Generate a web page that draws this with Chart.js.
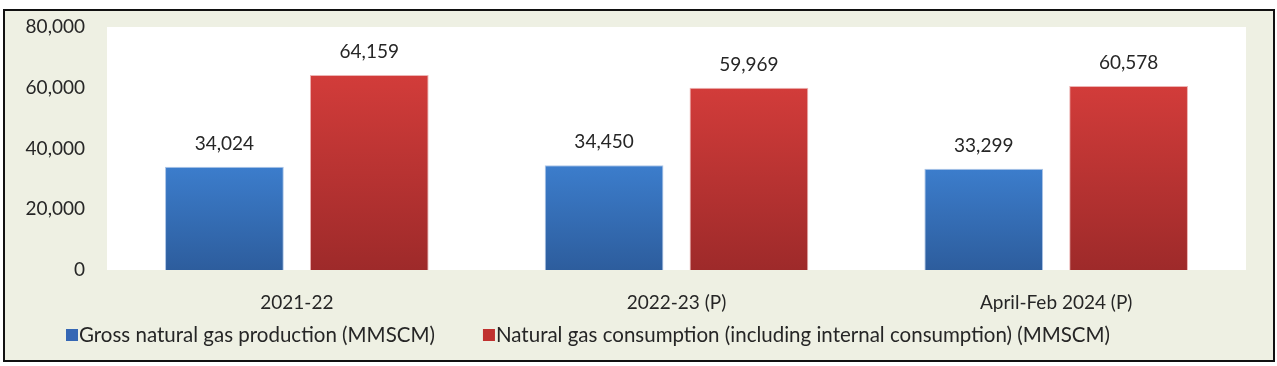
<!DOCTYPE html>
<html>
<head>
<meta charset="utf-8">
<script src="https://cdn.jsdelivr.net/npm/chart.js@4.4.1/dist/chart.umd.min.js"></script>
<style>
html,body{margin:0;padding:0;background:#fff;}
canvas{display:block;}
</style>
</head>
<body>
<canvas id="c" width="1277" height="366"></canvas>
<script>
const categories = ["2021-22", "2022-23 (P)", "April-Feb 2024 (P)"];
const productionLabel = "Gross natural gas production (MMSCM)";
const consumptionLabel = "Natural gas consumption (including internal consumption) (MMSCM)";
const production = [34024, 34450, 33299];
const consumption = [64159, 59969, 60578];
const yTicks = [0, 20000, 40000, 60000, 80000];

const FONT = "Lato";
const TXT = "#262626";
const fmt = v => Number(v).toLocaleString("en-US");

function grad(top, bottom, flat) {
  return (ctx) => {
    const chart = ctx.chart;
    const ca = chart.chartArea;
    if (!ca || ctx.raw === undefined) return flat;
    const y0 = chart.scales.y.getPixelForValue(ctx.raw);
    const g = chart.ctx.createLinearGradient(0, y0, 0, ca.bottom);
    g.addColorStop(0, top);
    g.addColorStop(1, bottom);
    return g;
  };
}

const framePlugin = {
  id: "frame",
  beforeDraw(chart) {
    const c = chart.ctx;
    const ca = chart.chartArea;
    c.save();
    c.fillStyle = "#ffffff";
    c.fillRect(0, 0, chart.width, chart.height);
    c.fillStyle = "#eef0e3";
    c.fillRect(4, 10, 1270, 351);
    c.fillStyle = "#ffffff";
    c.fillRect(ca.left, ca.top, ca.right - ca.left, ca.bottom - ca.top);
    c.strokeStyle = "#111111";
    c.lineWidth = 2;
    c.strokeRect(4, 10, 1270, 351);
    c.restore();
  }
};

const valuePlugin = {
  id: "values",
  afterDatasetsDraw(chart) {
    const c = chart.ctx;
    c.save();
    c.font = "19px " + FONT;
    c.fillStyle = TXT;
    c.textAlign = "center";
    c.textBaseline = "alphabetic";
    chart.data.datasets.forEach((ds, i) => {
      chart.getDatasetMeta(i).data.forEach((el, j) => {
        c.fillText(fmt(ds.data[j]), el.x, el.y - 17);
      });
    });
    c.restore();
  }
};

const legendPlugin = {
  id: "customLegend",
  afterDraw(chart) {
    const c = chart.ctx;
    c.save();
    c.font = "20.5px " + FONT;
    c.textBaseline = "middle";
    c.textAlign = "left";
    let x = 66;
    const yc = 335;
    chart.data.datasets.forEach((ds) => {
      c.fillStyle = ds.legendColor;
      c.fillRect(x, yc - 6, 12, 12);
      x += 13;
      c.fillStyle = TXT;
      c.fillText(ds.label, x, yc);
      x += c.measureText(ds.label).width + 48;
    });
    c.restore();
  }
};

new Chart(document.getElementById("c"), {
  type: "bar",
  data: {
    labels: categories,
    datasets: [
      {
        label: productionLabel,
        data: production,
        legendColor: "#3567b4",
        backgroundColor: grad("#3c7dcc", "#2d5d9d", "#3567b4"),
        borderColor: "rgba(120,160,215,0.6)",
        borderWidth: 1,
        barPercentage: 0.82,
        categoryPercentage: 0.763
      },
      {
        label: consumptionLabel,
        data: consumption,
        legendColor: "#c0312f",
        backgroundColor: grad("#d23c3a", "#9e2a2a", "#c0312f"),
        borderColor: "rgba(225,130,130,0.6)",
        borderWidth: 1,
        barPercentage: 0.82,
        categoryPercentage: 0.763
      }
    ]
  },
  options: {
    responsive: false,
    animation: false,
    devicePixelRatio: 1,
    layout: { padding: { top: 27, right: 31, left: 0, bottom: 0 } },
    plugins: { legend: { display: false }, tooltip: { enabled: false } },
    scales: {
      y: {
        min: 0,
        max: 80000,
        afterBuildTicks: (s) => { s.ticks = yTicks.map(v => ({ value: v })); },
        afterFit: (s) => { s.width = 107; s.paddingTop = 11; s.paddingBottom = 11; },
        grid: { display: false, drawTicks: false },
        border: { display: false },
        ticks: {
          padding: 22,
          color: TXT,
          font: { family: FONT, size: 19 },
          callback: (v) => fmt(v)
        }
      },
      x: {
        afterFit: (s) => { s.height = 96; },
        grid: { display: false, drawTicks: false },
        border: { display: false },
        ticks: {
          padding: 21,
          color: TXT,
          font: { family: FONT, size: 19 },
          maxRotation: 0
        }
      }
    }
  },
  plugins: [framePlugin, valuePlugin, legendPlugin]
});
</script>
</body>
</html>
